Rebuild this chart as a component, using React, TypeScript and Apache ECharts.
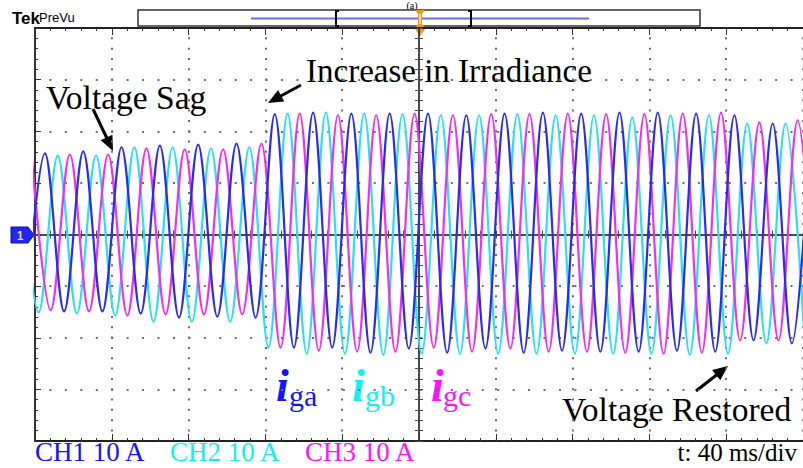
import React, { useEffect, useRef } from "react";
import * as echarts from "echarts";

// ---- Data (10 A/div, 40 ms/div) ----
const HALF_PERIOD_MS = 9.975; // time between successive extrema of one phase
const IA_START_MS = -4.8; // time of first listed extremum (ia)
const IB_START_MS = -8.1;
const IC_START_MS = -1.8;

// successive extrema (A), alternating peak / trough
const IA_EXTREMA = [
  -15.0, 15.7, -14.9, 16.1, -14.9, 16.9, -15.3, 17.2, -16.1, 17.4, -15.9, 17.6, -16.1,
  23.3, -21.9, 23.6, -21.9, 23.4, -22.9, 23.4, -22.1, 23.4, -22.9, 23.1, -22.1, 23.4,
  -22.9, 23.6, -22.5, 23.4, -22.7, 23.6, -22.7, 23.6, -22.5, 23.4, -22.7, 23.1, -20.5,
  21.5, -21.1, 21.5,
];
const IB_EXTREMA = [
  15.3, -15.1, 15.3, -15.3, 15.3, -15.7, 16.9, -16.9, 16.9, -16.9, 16.7, -16.9, 16.9,
  -21.9, 23.4, -23.1, 23.6, -23.1, 23.4, -23.3, 23.3, -23.1, 23.1, -23.1, 23.1, -23.1,
  23.3, -23.1, 23.1, -23.1, 23.1, -23.1, 22.7, -23.1, 23.1, -23.3, 23.1, -23.1, 21.5,
  -21.1, 21.5, -21.0,
];
const IC_EXTREMA = [
  15.5, -14.7, 15.5, -14.9, 15.5, -15.7, 16.7, -15.5, 16.5, -15.5, 16.5, -15.5, 17.6,
  -21.9, 23.4, -22.5, 23.1, -22.7, 23.1, -22.7, 23.4, -21.9, 23.1, -22.7, 23.3, -22.1,
  23.3, -22.7, 23.4, -22.7, 23.3, -22.9, 23.3, -23.1, 23.4, -22.9, 23.6, -20.5, 21.7,
  -20.5, 22.1, -20.5,
];

const X_MIN_MS = 0;
const X_MAX_MS = 400;
const X_DIV_MS = 40;
const Y_MIN_A = -40;
const Y_MAX_A = 40;
const Y_DIV_A = 10;

const CHANNEL_LABELS = ["CH1 10 A", "CH2 10 A", "CH3 10 A"];
const TIMEBASE_LABEL = "t: 40 ms/div";
const ANNOTATIONS = ["Voltage Sag", "Increase in Irradiance", "Voltage Restored"];
const CURRENT_NAMES = ["ga", "gb", "gc"];

const BLUE = "#2a2af0";
const CYAN = "#2ae0ee";
const MAGENTA = "#f030f0";
const TXT_BLUE = "#1414ff";
const TXT_CYAN = "#12f0f0";
const TXT_MAGENTA = "#ff14ff";
const DOT = "#6e6e6e";

const SERIF = '"Liberation Serif", "Times New Roman", serif';
const NARROW = '"Liberation Sans Narrow", "Liberation Sans", sans-serif';

function toData(start: number, extrema: number[]) {
  return extrema.map((v, k) => [start + k * HALF_PERIOD_MS, v]);
}

function arrow(x1: number, y1: number, x2: number, y2: number, head = 15, half = 6.5) {
  const dx = x2 - x1;
  const dy = y2 - y1;
  const len = Math.hypot(dx, dy);
  const ux = dx / len;
  const uy = dy / len;
  const bx = x2 - ux * head;
  const by = y2 - uy * head;
  const px = -uy;
  const py = ux;
  return [
    { type: "line", shape: { x1, y1, x2: bx + ux * 2, y2: by + uy * 2 }, style: { stroke: "#000", lineWidth: 3 } },
    {
      type: "polygon",
      shape: { points: [[x2, y2], [bx + px * half, by + py * half], [bx - px * half, by - py * half]] },
      style: { fill: "#000" },
    },
  ];
}

function text(t: string, x: number, y: number, size: number, fill: string, extra: any = {}) {
  return {
    type: "text",
    x,
    y,
    style: {
      text: t,
      fill,
      fontSize: size,
      fontFamily: SERIF,
      textAlign: "left",
      textVerticalAlign: "middle",
      verticalAlign: "middle",
      ...extra,
    },
  };
}

const GRID = { left: 35, top: 28, right: -4, bottom: 27 };

function crossAxes(gridIndex: number, inside: boolean) {
  const tickStyle = { color: "#4a4a4a", width: 1 };
  return {
    x: {
      type: "value",
      gridIndex,
      min: -200,
      max: 200,
      interval: X_DIV_MS,
      axisLine: { show: inside, onZero: true, lineStyle: { color: "#4a4a4a", width: 2 } },
      axisTick: { show: true, inside, length: 4, lineStyle: tickStyle },
      minorTick: { show: true, splitNumber: 5, length: 4, lineStyle: tickStyle },
      axisLabel: { show: false },
      splitLine: { show: false },
    },
    y: {
      type: "value",
      gridIndex,
      min: Y_MIN_A,
      max: Y_MAX_A,
      interval: Y_DIV_A,
      axisLine: { show: inside, onZero: true, lineStyle: { color: "#4a4a4a", width: 2 } },
      axisTick: { show: true, inside, length: 4, lineStyle: tickStyle },
      minorTick: { show: true, splitNumber: 5, length: 4, lineStyle: tickStyle },
      axisLabel: { show: false },
      splitLine: { show: false },
    },
  };
}

export default function App() {
  const ref = useRef<HTMLDivElement>(null);

  useEffect(() => {
    document.body.style.margin = "0";
    if (!ref.current) return;
    const chart = echarts.init(ref.current, null, { renderer: "svg" });

    const borderTick = { color: "#333", width: 1 };
    const mainX = (position: string, split: boolean) => ({
      type: "value",
      gridIndex: 0,
      position,
      min: X_MIN_MS,
      max: X_MAX_MS,
      interval: X_DIV_MS,
      axisLine: { show: true, onZero: false, lineStyle: { color: "#222", width: 2 } },
      axisTick: { show: true, inside: true, length: 7, lineStyle: borderTick },
      minorTick: { show: true, splitNumber: 5, length: 3, lineStyle: borderTick },
      axisLabel: { show: false },
      splitLine: {
        show: split,
        lineStyle: { color: DOT, width: 2, type: [2, 8.32], dashOffset: 1 },
      },
    });

    const c1 = crossAxes(1, true);
    const c2 = crossAxes(2, false);

    const graphic: any[] = [
      // header
      text("Tek", 12, 18, 17, "#000", { fontFamily: NARROW, fontWeight: "bold" }),
      text("PreVu", 39, 17, 13, "#000", { fontFamily: NARROW }),
      text("(a)", 412, 0, 10, "#000", { textAlign: "center", textVerticalAlign: "top", verticalAlign: "top" }),
      { type: "rect", shape: { x: 138, y: 10, width: 562, height: 16 }, style: { fill: "#fff", stroke: "#333", lineWidth: 1.5 } },
      { type: "line", shape: { x1: 251, y1: 18.5, x2: 589, y2: 18.5 }, style: { stroke: "#6b6bf5", lineWidth: 2 } },
      { type: "polyline", shape: { points: [[339, 11], [336, 11], [336, 26], [339, 26]] }, style: { stroke: "#000", lineWidth: 2, fill: null } },
      { type: "polyline", shape: { points: [[468, 11], [471, 11], [471, 26], [468, 26]] }, style: { stroke: "#000", lineWidth: 2, fill: null } },
      { type: "polygon", shape: { points: [[415, 10], [425, 10], [422, 14], [422, 24], [425, 28], [415, 28], [418, 24], [418, 14]] }, style: { fill: "#f29a1c" } },
      { type: "line", shape: { x1: 420, y1: 14, x2: 420, y2: 24 }, style: { stroke: "#fff", lineWidth: 1.2 } },
      { type: "polygon", shape: { points: [[414, 28], [426, 28], [420, 36]] }, style: { fill: "#f29a1c" } },
      // channel 1 ground marker
      {
        type: "polygon",
        shape: { points: [[11, 227], [28, 227], [34, 235], [28, 243], [11, 243]] },
        style: { fill: "#2525f0", stroke: "#1010b0", lineWidth: 1 },
      },
      text("1", 20, 235.5, 12, "#d9d7a6", { fontFamily: NARROW, fontWeight: "bold", textAlign: "center" }),
      // annotations
      text(ANNOTATIONS[0], 46, 97, 33.5, "#000"),
      text(ANNOTATIONS[1], 306, 71, 33, "#000"),
      text(ANNOTATIONS[2], 562, 409, 33.5, "#000"),
      ...arrow(93, 109, 113, 151),
      ...arrow(301, 85, 268, 103),
      ...arrow(696, 391, 728, 366),
      // current names
      text("i", 276, 385, 46, TXT_BLUE, { fontStyle: "italic", fontWeight: "bold" }),
      text(CURRENT_NAMES[0], 289, 395, 30, TXT_BLUE),
      text("i", 352, 385, 46, TXT_CYAN, { fontStyle: "italic", fontWeight: "bold" }),
      text(CURRENT_NAMES[1], 365, 395, 30, TXT_CYAN),
      text("i", 431, 385, 46, TXT_MAGENTA, { fontStyle: "italic", fontWeight: "bold" }),
      text(CURRENT_NAMES[2], 443, 395, 30, TXT_MAGENTA),
      // channel labels
      text(CHANNEL_LABELS[0], 35, 452, 27, TXT_BLUE),
      text(CHANNEL_LABELS[1], 170, 452, 27, TXT_CYAN),
      text(CHANNEL_LABELS[2], 305, 452, 27, TXT_MAGENTA),
      text(TIMEBASE_LABEL, 797, 452, 25, "#000", { textAlign: "right" }),
    ];

    const option: any = {
      animation: false,
      backgroundColor: "#fff",
      grid: [
        { ...GRID, containLabel: false },
        { ...GRID, containLabel: false },
        { ...GRID, containLabel: false },
      ],
      xAxis: [mainX("bottom", true), { ...mainX("top", false) }, c1.x, c2.x],
      yAxis: [
        {
          type: "value",
          gridIndex: 0,
          position: "left",
          min: Y_MIN_A,
          max: Y_MAX_A,
          interval: Y_DIV_A,
          axisLine: { show: true, onZero: false, lineStyle: { color: "#333", width: 2 } },
          axisTick: { show: true, inside: true, length: 6, lineStyle: borderTick },
          minorTick: { show: true, splitNumber: 5, length: 3, lineStyle: borderTick },
          axisLabel: { show: false },
          splitLine: {
            show: true,
            lineStyle: { color: DOT, width: 2, type: [2, 13.44], dashOffset: 1 },
          },
        },
        c1.y,
        c2.y,
      ],
      series: [
        {
          type: "line",
          name: "igb",
          xAxisIndex: 0,
          yAxisIndex: 0,
          data: toData(IB_START_MS, IB_EXTREMA),
          smooth: 0.35,
          symbol: "none",
          lineStyle: { color: CYAN, width: 2.2 },
          z: 3,
        },
        {
          type: "line",
          name: "igc",
          xAxisIndex: 0,
          yAxisIndex: 0,
          data: toData(IC_START_MS, IC_EXTREMA),
          smooth: 0.35,
          symbol: "none",
          lineStyle: { color: MAGENTA, width: 2.2 },
          z: 3,
        },
        {
          type: "line",
          name: "iga",
          xAxisIndex: 0,
          yAxisIndex: 0,
          data: toData(IA_START_MS, IA_EXTREMA),
          smooth: 0.35,
          symbol: "none",
          lineStyle: { color: BLUE, width: 2.2 },
          z: 3,
        },
      ],
      graphic,
    };

    chart.setOption(option);
    return () => chart.dispose();
  }, []);

  return (
    <div
      ref={ref}
      style={{ position: "fixed", left: 0, top: 0, width: 803, height: 468, background: "#fff" }}
    />
  );
}
